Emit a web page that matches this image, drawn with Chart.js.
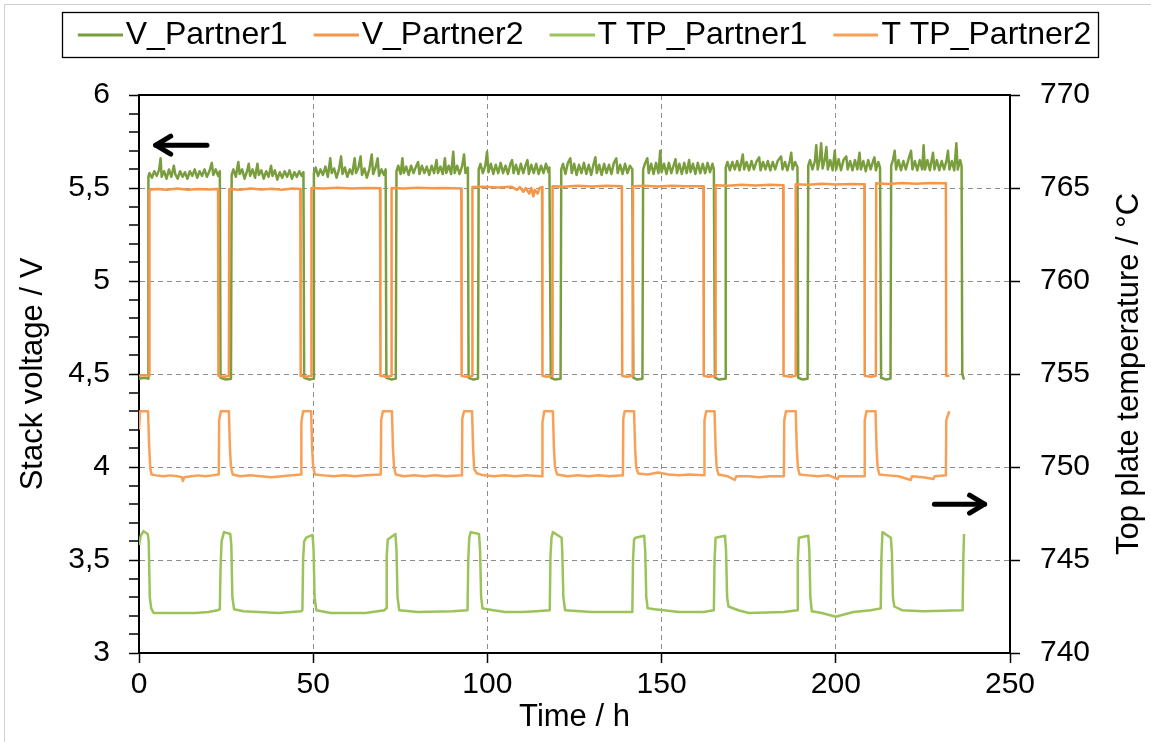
<!DOCTYPE html>
<html><head><meta charset="utf-8">
<script src="https://cdn.jsdelivr.net/npm/chart.js@4.4.1/dist/chart.umd.min.js"></script>
<style>html,body{margin:0;padding:0;background:#fff;}canvas{display:block;}</style>
</head><body>
<canvas id="c" width="1151" height="742"></canvas>
<script>
// ---------- DATA ----------
const seriesNames = ['V_Partner1', 'V_Partner2', 'T TP_Partner1', 'T TP_Partner2'];
const xTickValues = [0, 50, 100, 150, 200, 250];
const leftAxisRange = [3, 6];
const rightAxisRange = [740, 770];
const leftMinorStep = 0.1;

// Stack voltage Partner1 [time h, V]
const vPartner1 = [
[0,4.475],[1.5,4.48],[2.6,4.475],[2.7,5.56],
[3.0,5.58],[3.7,5.555],[4.4,5.59],[5.1,5.565],[5.8,5.6],[6.2,5.66],[6.5,5.56],[7.2,5.59],[7.9,5.55],[8.6,5.6],[9.3,5.56],[10.0,5.62],[10.4,5.575],[11.1,5.55],[11.8,5.59],[12.5,5.56],[13.2,5.585],[13.9,5.55],[14.6,5.59],[15.3,5.565],[16.0,5.6],[16.7,5.555],[17.4,5.59],[18.1,5.565],[18.8,5.6],[19.5,5.56],[20.2,5.59],[20.9,5.635],[21.3,5.57],[22.0,5.6],[22.7,5.565],[23.2,5.59],
[23.4,4.48],[25,4.47],[26.4,4.475],[26.6,5.57],
[27.1,5.6],[27.8,5.56],[28.5,5.64],[28.9,5.575],[29.6,5.6],[30.3,5.55],[31.0,5.59],[31.5,5.63],[31.9,5.565],[32.6,5.6],[33.3,5.555],[34.0,5.63],[34.4,5.57],[35.1,5.595],[35.8,5.55],[36.5,5.59],[37.2,5.56],[37.9,5.62],[38.3,5.565],[39.0,5.595],[39.7,5.545],[40.4,5.585],[41.1,5.555],[41.8,5.59],[42.5,5.56],[43.2,5.595],[43.9,5.55],[44.6,5.585],[45.3,5.56],[46.0,5.59],[46.7,5.565],[47.2,5.585],
[47.4,4.48],[49,4.47],[50.0,4.475],[50.2,5.58],
[50.7,5.61],[51.4,5.565],[52.1,5.6],[52.8,5.57],[53.5,5.615],[54.2,5.56],[54.9,5.66],[55.3,5.58],[56.0,5.605],[56.7,5.555],[57.4,5.6],[58.0,5.67],[58.4,5.575],[59.1,5.61],[59.8,5.56],[60.5,5.6],[61.2,5.575],[61.9,5.66],[62.3,5.58],[63.0,5.61],[63.6,5.67],[64.0,5.57],[64.7,5.605],[65.4,5.555],[66.1,5.6],[66.8,5.68],[67.2,5.575],[67.9,5.61],[68.5,5.66],[68.9,5.565],[69.6,5.6],[70.3,5.57],[70.8,5.6],
[71.0,4.48],[72.5,4.47],[73.7,4.475],[73.9,5.59],
[74.4,5.62],[75.1,5.575],[75.6,5.66],[76.0,5.58],[76.7,5.615],[77.4,5.57],[78.1,5.62],[78.8,5.58],[79.5,5.615],[80.1,5.64],[80.5,5.575],[81.2,5.62],[81.9,5.58],[82.6,5.615],[83.3,5.57],[84.0,5.62],[84.7,5.58],[85.4,5.65],[85.8,5.58],[86.5,5.615],[87.2,5.575],[87.8,5.66],[88.2,5.58],[88.9,5.62],[89.6,5.575],[90.2,5.695],[90.6,5.58],[91.3,5.62],[92.0,5.575],[92.7,5.615],[93.3,5.68],[93.7,5.58],[94.4,5.61],
[94.6,4.48],[96,4.47],[97.3,4.475],[97.5,5.6],
[98.0,5.63],[98.7,5.58],[99.4,5.62],[99.9,5.695],[100.3,5.585],[101.0,5.63],[101.7,5.575],[102.4,5.625],[103.1,5.58],[103.8,5.635],[104.5,5.58],[105.2,5.62],[105.9,5.575],[106.6,5.63],[107.1,5.65],[107.5,5.58],[108.2,5.625],[108.9,5.575],[109.6,5.63],[110.3,5.58],[111.0,5.625],[111.5,5.65],[111.9,5.575],[112.6,5.625],[113.3,5.58],[114.0,5.63],[114.7,5.575],[115.4,5.62],[116.1,5.58],[116.8,5.63],[117.5,5.585],[117.8,5.61],
[118.2,4.48],[119.5,4.47],[121.0,4.475],[121.2,5.6],
[121.7,5.63],[122.4,5.575],[123.1,5.635],[123.8,5.66],[124.2,5.58],[124.9,5.63],[125.6,5.57],[126.3,5.625],[127.0,5.58],[127.7,5.635],[128.4,5.575],[129.1,5.625],[129.8,5.57],[130.5,5.63],[131.0,5.665],[131.4,5.58],[132.1,5.625],[132.8,5.57],[133.5,5.63],[134.2,5.58],[134.9,5.625],[135.6,5.575],[136.3,5.635],[137.0,5.66],[137.4,5.58],[138.1,5.625],[138.8,5.575],[139.5,5.63],[140.2,5.58],[140.9,5.62],[141.6,5.6],
[141.9,4.48],[143,4.47],[144.5,4.475],[144.7,5.6],
[145.2,5.63],[145.9,5.66],[146.3,5.58],[147.0,5.63],[147.7,5.575],[148.4,5.635],[149.1,5.58],[149.6,5.70],[150.0,5.585],[150.7,5.63],[151.4,5.575],[152.1,5.635],[152.8,5.58],[153.5,5.625],[154.0,5.655],[154.4,5.58],[155.1,5.63],[155.8,5.575],[156.5,5.635],[157.2,5.58],[157.9,5.65],[158.3,5.585],[159.0,5.63],[159.7,5.575],[160.4,5.635],[161.1,5.58],[161.8,5.63],[162.5,5.58],[163.2,5.635],[163.9,5.585],[164.6,5.63],[165.0,5.6],
[165.3,4.48],[166.5,4.47],[168.2,4.475],[168.4,5.61],
[168.9,5.64],[169.6,5.595],[170.3,5.64],[171.0,5.6],[171.7,5.645],[172.4,5.595],[173.3,5.68],[173.7,5.6],[174.4,5.64],[175.1,5.595],[175.8,5.645],[176.5,5.6],[177.2,5.64],[178.0,5.665],[178.4,5.595],[179.1,5.64],[179.8,5.6],[180.5,5.645],[181.2,5.595],[181.9,5.64],[182.6,5.6],[183.3,5.645],[184.3,5.67],[184.7,5.6],[185.4,5.64],[186.1,5.595],[186.8,5.645],[187.2,5.69],[187.6,5.6],[188.3,5.64],[189.0,5.61],
[189.2,4.48],[190.5,4.47],[191.9,4.475],[192.1,5.62],
[192.6,5.65],[193.3,5.6],[194.0,5.645],[194.4,5.73],[194.8,5.6],[195.4,5.655],[195.8,5.74],[196.2,5.605],[196.8,5.65],[197.3,5.72],[197.7,5.6],[198.4,5.65],[199.1,5.595],[199.7,5.70],[200.1,5.6],[200.8,5.655],[201.5,5.595],[202.2,5.65],[203.0,5.67],[203.4,5.6],[204.1,5.645],[204.8,5.595],[205.5,5.65],[206.2,5.6],[206.8,5.69],[207.2,5.6],[207.9,5.645],[208.6,5.59],[209.3,5.65],[210.0,5.6],[210.7,5.645],[211.1,5.665],[211.5,5.595],[212.2,5.64],[212.7,5.61],
[213.0,4.48],[214.5,4.47],[215.7,4.475],[215.9,5.62],
[216.4,5.65],[216.9,5.70],[217.3,5.6],[218.0,5.65],[218.7,5.595],[219.4,5.645],[220.1,5.6],[220.8,5.65],[221.6,5.70],[222.0,5.6],[222.7,5.645],[223.4,5.595],[224.1,5.65],[224.8,5.6],[225.2,5.73],[225.6,5.6],[226.3,5.65],[227.0,5.595],[227.9,5.69],[228.3,5.6],[229.0,5.65],[229.7,5.595],[230.4,5.645],[231.1,5.6],[231.8,5.65],[232.2,5.70],[232.6,5.6],[233.3,5.645],[234.0,5.595],[234.6,5.74],[235.0,5.6],[235.7,5.65],[236.1,5.62],
[236.3,4.5],[236.8,4.47]
];

// Stack voltage Partner2 [time h, V]
const vPartner2 = [
[0,4.49],[1.5,4.495],[2.9,4.49],[3.0,5.49],[5,5.495],[8,5.49],[11,5.497],[14,5.49],[17,5.495],[20,5.492],[22.7,5.495],
[22.8,4.49],[24.5,4.485],[25.8,4.49],[25.9,5.495],[29,5.49],[32,5.497],[35,5.492],[38,5.496],[41,5.49],[44,5.497],[46.3,5.495],
[46.4,4.49],[48,4.485],[49.4,4.49],[49.5,5.50],[53,5.497],[57,5.502],[61,5.497],[65,5.5],[69.2,5.498],
[69.3,4.49],[71,4.485],[72.4,4.49],[72.5,5.50],[76,5.497],[80,5.502],[84,5.498],[88,5.5],[92.5,5.497],
[92.6,4.49],[94,4.485],[95.6,4.49],[95.7,5.505],[99,5.507],[103,5.503],[107,5.507],[108.5,5.49],[109.3,5.505],[110.3,5.48],[111.0,5.50],[112.0,5.47],[112.6,5.5],[113.2,5.455],[113.6,5.49],[114.4,5.47],[115.0,5.5],[115.7,5.505],
[115.8,4.49],[117,4.485],[118.6,4.49],[118.7,5.51],[122,5.507],[126,5.512],[130,5.508],[134,5.512],[138.6,5.51],
[138.7,4.49],[140,4.485],[141.7,4.49],[141.8,5.51],[145,5.512],[149,5.508],[153,5.512],[157,5.509],[162.0,5.51],
[162.1,4.49],[163.5,4.485],[165.4,4.49],[165.5,5.515],[169,5.512],[173,5.518],[177,5.514],[181,5.517],[184.9,5.515],
[185.0,4.49],[187,4.485],[188.4,4.49],[188.5,5.52],[192,5.518],[196,5.523],[200,5.519],[204,5.522],[208.2,5.52],
[208.3,4.49],[210,4.485],[211.5,4.49],[211.6,5.525],[215,5.522],[219,5.527],[223,5.523],[227,5.527],[231.6,5.525],
[231.7,4.49],[232.6,4.49]
];

// Top plate temperature Partner1 [time h, °C]
const tPartner1 = [
[0,745.8],[0.5,746.3],[1.3,746.55],[2.5,746.4],[2.8,746.0],[3.1,743.0],[3.5,742.4],[4.2,742.15],[10,742.15],[16,742.15],[20,742.2],[22.5,742.3],[23.2,742.35],
[23.4,744.5],[23.7,746.0],[24.4,746.5],[26.2,746.4],[26.5,745.8],[26.8,743.0],[27.3,742.35],[30,742.25],[40,742.15],[46.5,742.25],[46.9,742.3],
[47.1,745.0],[47.4,746.0],[48,746.2],[49.8,746.35],[50.1,745.6],[50.4,743.0],[50.9,742.3],[55,742.15],[65,742.15],[70.5,742.3],[70.9,742.4],
[71.1,745.2],[71.4,746.1],[73.6,746.4],[73.9,745.6],[74.2,743.0],[74.7,742.3],[80,742.2],[90,742.25],[94.3,742.3],
[94.5,745.0],[94.8,746.2],[95.2,746.5],[97.6,746.4],[97.9,745.5],[98.2,743.0],[98.6,742.4],[100,742.35],[105,742.2],[110,742.2],[114,742.25],[117.9,742.3],
[118.1,745.2],[118.4,746.2],[118.8,746.5],[121.3,746.2],[121.5,745.4],[121.8,743.0],[122.3,742.3],[130,742.2],[141.6,742.2],
[141.8,745.0],[142.1,746.1],[142.5,746.2],[145.0,746.3],[145.3,745.5],[145.6,743.0],[146,742.4],[148,742.35],[155,742.2],[162,742.2],[165.0,742.3],
[165.2,745.0],[165.5,746.2],[168.2,746.3],[168.5,745.5],[168.8,743.0],[169.2,742.5],[172,742.3],[175,742.15],[185,742.2],[188.9,742.3],
[189.1,745.0],[189.4,746.2],[192.1,746.3],[192.4,745.5],[192.7,743.0],[193.1,742.25],[196,742.15],[200,741.95],[201,742.0],[205,742.2],[210,742.3],[212.9,742.4],
[213.1,745.2],[213.4,746.5],[215.8,746.2],[216.1,745.4],[216.4,743.0],[216.8,742.5],[219,742.3],[225,742.25],[236.4,742.3],
[236.6,745.0],[236.8,746.4]
];

// Top plate temperature Partner2 [time h, °C]
const tPartner2 = [
[0,752.0],[0.3,753.0],[2.6,753.0],[2.9,751.2],[3.2,750.0],[3.6,749.6],[5,749.55],[7,749.5],[9,749.55],[11,749.5],[12.3,749.45],[12.6,749.25],[13.0,749.45],[15,749.5],[17,749.55],[19,749.5],[21,749.55],[22.9,749.6],
[23.0,752.5],[23.5,753.0],[25.8,753.0],[26.1,751.0],[26.4,750.0],[26.9,749.6],[29,749.5],[32,749.55],[35,749.5],[38,749.45],[41,749.5],[44,749.55],[46.5,749.6],
[46.6,752.4],[47.1,753.0],[49.4,753.0],[49.7,751.0],[50.0,750.0],[50.5,749.6],[53,749.55],[56,749.5],[59,749.55],[62,749.5],[65,749.55],[69.4,749.6],
[69.5,752.5],[70.0,753.0],[72.6,753.0],[72.9,751.0],[73.2,750.0],[73.7,749.6],[76,749.5],[79,749.55],[82,749.5],[85,749.55],[88,749.5],[92.7,749.55],
[92.8,752.6],[93.3,753.0],[95.6,753.0],[95.9,751.0],[96.2,749.9],[97,749.65],[99,749.55],[102,749.5],[105,749.55],[108,749.5],[111,749.55],[115.7,749.5],
[115.8,752.4],[116.3,753.0],[118.8,753.0],[119.1,751.0],[119.4,750.0],[120,749.6],[123,749.5],[126,749.55],[129,749.5],[132,749.55],[135,749.5],[138.9,749.55],
[139.0,752.6],[139.4,753.0],[142.1,753.0],[142.4,751.0],[142.7,750.0],[143.3,749.65],[146,749.6],[149,749.7],[152,749.6],[155,749.55],[158,749.6],[162.2,749.55],
[162.3,752.5],[162.8,753.0],[165.2,753.0],[165.5,751.0],[165.8,750.0],[166.3,749.6],[169,749.5],[171,749.3],[171.4,749.5],[175,749.5],[178,749.45],[181,749.5],[185.1,749.5],
[185.2,752.5],[185.7,753.0],[188.5,753.0],[188.8,751.0],[189.1,750.0],[189.6,749.6],[192,749.55],[195,749.5],[198,749.55],[200.5,749.35],[200.9,749.5],[204,749.5],[208.2,749.5],
[208.3,752.5],[208.8,753.0],[211.4,753.0],[211.7,751.0],[212.0,750.0],[212.5,749.6],[215,749.55],[218,749.5],[221.5,749.3],[221.9,749.5],[225,749.45],[228,749.35],[228.4,749.5],[231.6,749.55],
[231.7,752.5],[232.2,752.8],[232.6,753.0]
];

// arrows indicating which axis the groups belong to (data coordinates)
const leftArrow = {fromX: 19.5, toX: 4.8, y: 5.73};
const rightArrow = {fromX: 228.3, toX: 242.7, y: 748.0};

// ---------- STYLE ----------
const FONT = "'Liberation Sans', Arial, sans-serif";
const colV1 = '#7A9E3E', colV2 = '#F79646', colT1 = '#9BC35A', colT2 = '#F9A057';
const gridCol = '#8C8C8C';
const LEG_FS = 32, AX_FS = 31, TICK_FS = 30, TICK_LEN = 10;
const LEG_W = 50, LEG_LINE = 45, LEG_LEAD = 18;

function legendLine(color) {
  const cx = LEG_W / 2;
  const half = Math.max(cx - LEG_LEAD, LEG_LEAD + LEG_LINE - cx);
  const c = document.createElement('canvas');
  c.width = Math.round(half * 2); c.height = 6;
  const g = c.getContext('2d');
  g.strokeStyle = color; g.lineWidth = 3;
  const x0 = half + (LEG_LEAD - cx);
  g.beginPath(); g.moveTo(x0, 3); g.lineTo(x0 + LEG_LINE, 3); g.stroke();
  return c;
}
const toXY = arr => arr.map(p => ({x: p[0], y: p[1]}));

function isMajor(v, step) { const r = v / step; return Math.abs(r - Math.round(r)) < 1e-6; }

const decoPlugin = {
  id: 'deco',
  afterInit(chart) {
    const lg = chart.legend;
    const fit = lg.fit.bind(lg);
    lg.fit = function () { fit(); this.height = 95 - 11; };
  },
  beforeDraw(chart) {
    const ctx = chart.ctx;
    ctx.save();
    ctx.fillStyle = '#fff'; ctx.fillRect(0, 0, chart.width, chart.height);
    ctx.strokeStyle = '#D0D0D0'; ctx.lineWidth = 1;
    ctx.beginPath(); ctx.moveTo(4.5, chart.height); ctx.lineTo(4.5, 4.5); ctx.lineTo(chart.width, 4.5); ctx.stroke();
    ctx.restore();
  },
  afterDraw(chart) {
    const ctx = chart.ctx, a = chart.chartArea;
    const xs = chart.scales.x, ys = chart.scales.y, ys2 = chart.scales.y2;
    ctx.save();
    // top border of plot area
    ctx.strokeStyle = '#000'; ctx.lineWidth = 2;
    ctx.beginPath(); ctx.moveTo(a.left, a.top); ctx.lineTo(a.right, a.top); ctx.stroke();
    // minor ticks on the left axis
    ctx.lineWidth = 1.5;
    const n = Math.round((leftAxisRange[1] - leftAxisRange[0]) / leftMinorStep);
    for (let i = 0; i <= n; i++) {
      const v = leftAxisRange[0] + i * leftMinorStep;
      if (isMajor(v, 0.5)) continue;
      const py = Math.round(ys.getPixelForValue(v));
      ctx.beginPath(); ctx.moveTo(a.left - TICK_LEN, py); ctx.lineTo(a.left, py); ctx.stroke();
    }
    // legend frame
    const hb = chart.legend.legendHitBoxes;
    if (hb && hb.length) {
      const l = Math.min(...hb.map(h => h.left)) + LEG_LEAD - 16;
      const r = Math.max(...hb.map(h => h.left + h.width)) + 7;
      const cy = hb[0].top + LEG_FS / 2;
      ctx.lineWidth = 1.3; ctx.strokeStyle = '#000';
      ctx.strokeRect(Math.round(l) + 0.5, Math.round(cy - 23) + 0.5, Math.round(r - l), 45);
    }
    // right axis title (reads bottom to top)
    ctx.fillStyle = '#000';
    ctx.font = AX_FS + 'px ' + FONT;
    ctx.textAlign = 'center'; ctx.textBaseline = 'middle';
    ctx.translate(1129, (a.top + a.bottom) / 2);
    ctx.rotate(-Math.PI / 2);
    ctx.fillText('Top plate temperature / °C', 0, 0);
    ctx.setTransform(1, 0, 0, 1, 0, 0);
    // arrows
    function arrow(x1, x2, y) {
      const dir = x2 > x1 ? 1 : -1;
      ctx.strokeStyle = '#000'; ctx.lineWidth = 5; ctx.lineCap = 'round'; ctx.lineJoin = 'round';
      ctx.beginPath(); ctx.moveTo(x1, y); ctx.lineTo(x2, y); ctx.stroke();
      ctx.beginPath(); ctx.moveTo(x2 - dir * 15, y - 9); ctx.lineTo(x2, y); ctx.lineTo(x2 - dir * 15, y + 9); ctx.stroke();
    }
    arrow(xs.getPixelForValue(leftArrow.fromX), xs.getPixelForValue(leftArrow.toX), ys.getPixelForValue(leftArrow.y));
    arrow(xs.getPixelForValue(rightArrow.fromX), xs.getPixelForValue(rightArrow.toX), ys2.getPixelForValue(rightArrow.y));
    ctx.restore();
  }
};

const lineDs = (label, data, color, axis) => ({
  label, data: toXY(data), borderColor: color, backgroundColor: color, yAxisID: axis,
  borderWidth: 2.5, borderJoinStyle: 'round', pointRadius: 0, tension: 0, fill: false
});

// datasets listed so that V_Partner1 is drawn first (bottom); legend reversed to read V1, V2, T1, T2
const datasets = [
  lineDs(seriesNames[3], tPartner2, colT2, 'y2'),
  lineDs(seriesNames[2], tPartner1, colT1, 'y2'),
  lineDs(seriesNames[1], vPartner2, colV2, 'y'),
  lineDs(seriesNames[0], vPartner1, colV1, 'y')
];

Chart.defaults.font.family = FONT;
Chart.defaults.color = '#000';

new Chart(document.getElementById('c'), {
  type: 'line',
  data: {datasets},
  options: {
    responsive: false, animation: false, devicePixelRatio: 1,
    layout: {padding: {top: 11, left: 0, right: 0, bottom: 0}},
    plugins: {
      tooltip: {enabled: false},
      legend: {
        position: 'top', reverse: true,
        labels: {
          usePointStyle: true, pointStyleWidth: LEG_W, padding: 8,
          font: {size: LEG_FS}, color: '#000',
          generateLabels(chart) {
            const items = Chart.defaults.plugins.legend.labels.generateLabels(chart);
            items.forEach(it => { it.pointStyle = legendLine(chart.data.datasets[it.datasetIndex].borderColor); });
            return items;
          }
        }
      }
    },
    scales: {
      x: {
        type: 'linear', min: 0, max: 250,
        afterFit(s) { s.height = 89; },
        afterBuildTicks(s) { s.ticks = xTickValues.map(v => ({value: v})); },
        ticks: {font: {size: TICK_FS}, padding: 4, color: '#000', autoSkip: false, maxRotation: 0},
        grid: {
          color: c => (c.tick && (c.tick.value === 0 || c.tick.value === 250)) ? 'rgba(0,0,0,0)' : gridCol,
          lineWidth: 1, tickLength: TICK_LEN, tickColor: '#000', tickWidth: 1.5
        },
        border: {display: true, color: '#000', width: 2, dash: [5, 4]},
        title: {display: true, text: 'Time / h', font: {size: AX_FS}, color: '#000', padding: {top: 0, bottom: 6}}
      },
      y: {
        type: 'linear', position: 'left', min: leftAxisRange[0], max: leftAxisRange[1],
        afterFit(s) { s.width = 139; },
        ticks: {
          stepSize: 0.5, autoSkip: false, font: {size: TICK_FS}, padding: 19, color: '#000',
          callback: v => String(Math.round(v * 10) / 10).replace('.', ',')
        },
        grid: {
          color: c => {
            if (!c.tick) return 'rgba(0,0,0,0)';
            const v = c.tick.value;
            if (Math.abs(v - 3) < 1e-6 || Math.abs(v - 6) < 1e-6) return 'rgba(0,0,0,0)';
            return gridCol;
          },
          lineWidth: 1, tickLength: TICK_LEN, tickColor: '#000', tickWidth: 1.5
        },
        border: {display: true, color: '#000', width: 2, dash: [5, 4]},
        title: {display: true, text: 'Stack voltage / V', font: {size: AX_FS}, color: '#000', padding: {top: 15, bottom: 0}}
      },
      y2: {
        type: 'linear', position: 'right', min: rightAxisRange[0], max: rightAxisRange[1],
        afterFit(s) { s.width = 141; },
        ticks: {stepSize: 5, font: {size: TICK_FS}, padding: 20, color: '#000'},
        grid: {drawOnChartArea: false, tickLength: TICK_LEN, tickColor: '#000', tickWidth: 1.5},
        border: {display: true, color: '#000', width: 2}
      }
    }
  },
  plugins: [decoPlugin]
});
</script>
</body></html>
